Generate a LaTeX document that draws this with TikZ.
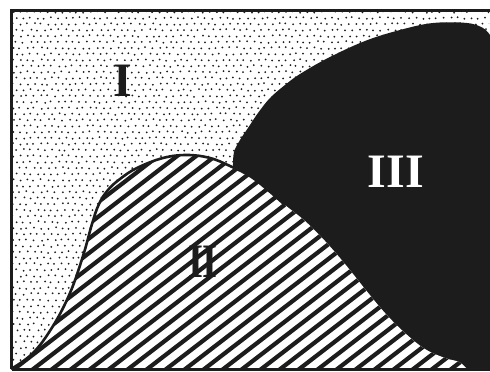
\documentclass[tikz,border=0pt]{standalone}
\usepackage{fontspec}
\setmainfont{Liberation Serif}
\definecolor{ink}{RGB}{28,28,28}
\begin{document}
\begin{tikzpicture}[x=1pt,y=-1pt,
  lab/.style={inner sep=0pt,font=\fontsize{48}{48}\selectfont\bfseries},
  frame/.style={draw=ink,line width=3pt},
  hatchline/.style={draw=ink,line width=4.2pt},
  outline/.style={draw=ink,line width=2.6pt,line join=round}]
\useasboundingbox (0,0) rectangle (490,372);
% background
\fill[white] (0,0) rectangle (490,372);
% dots (region I)
\begin{scope}
\clip (11.5,10) rectangle (489,369);
\pgfmathsetseed{11}
\foreach \r in {0,...,60}{
  \foreach \c in {0,...,69}{
    \pgfmathsetmacro\xx{13+\c*7+mod(\r,2)*3.5+rand*1.1}
    \pgfmathsetmacro\yy{12+\r*6+rand*0.9}
    \fill[ink] (\xx,\yy) circle (1.0);
  }
}
\end{scope}
% region III (black)
\fill[ink] plot[smooth,tension=0.6] coordinates {(233,166) (234,152) (240,140) (248,128) (258,113) (270,98) (285,85) (300,74) (328,58) (365,41) (400,30) (433,23) (467,23) (483,28) (490,35)}
  -- (490,369) -- (300,369) -- cycle;
% region II (hatched hump)
\def\humppath{plot[smooth,tension=0.65] coordinates {(11,369) (33,353) (53,326) (70,293) (83,256) (92,224) (99,204) (108,190) (120,179) (137,168) (163,158) (187,155) (210,158) (230,166) (250,176) (268,190) (285,205) (305,221) (325,241) (345,264) (365,289) (385,313) (405,333) (425,349) (445,358) (459,362) (467,369)}}
\fill[white] \humppath -- cycle;
\begin{scope}
\clip \humppath -- cycle;
\foreach \k in {-24,...,27}{
  \draw[hatchline] (\k*19,380) -- ++(520,-400);
}
\end{scope}
\draw[outline] plot[smooth,tension=0.65] coordinates {(11,369) (33,353) (53,326) (70,293) (83,256) (92,224) (99,204) (108,190) (120,179) (137,168) (163,158) (187,155) (210,158) (230,166) (250,176) (268,190) (285,205)};
% frame
\draw[frame] (11.5,369) -- (11.5,10) -- (490,10);
\draw[frame] (11.5,369) -- (490,369);
% labels
\node[lab,text=ink] (I) at (123,81) {I};
\node[lab,text=ink,xscale=0.8] (II) at (203,262) {II};
\node[lab,text=white] (III) at (396,172) {III};
\end{tikzpicture}
\end{document}
